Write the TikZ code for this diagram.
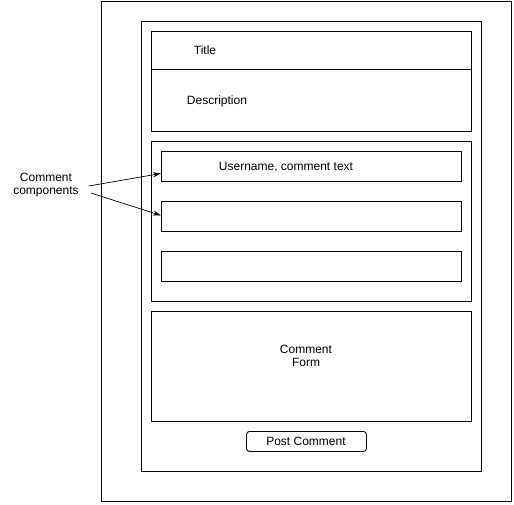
\documentclass[tikz,border=0pt]{standalone}
\usepackage{fontspec}
\setmainfont{Liberation Sans}
\usetikzlibrary{arrows.meta}
\tikzset{
  box/.style={draw, rectangle, inner sep=0pt, line width=0.9pt, anchor=north west},
  lbl/.style={font=\fontsize{12}{13.5}\selectfont, align=center, inner sep=2pt},
  pointer/.style={-{Stealth[length=8pt,width=5pt]}, line width=0.7pt}
}
\begin{document}
\begin{tikzpicture}[x=1pt,y=-1pt]
  \useasboundingbox (0,0) rectangle (514,504);
  % page frame
  \node[box, minimum width=410pt, minimum height=500pt] (page) at (101,1) {};
  \node[box, minimum width=340pt, minimum height=450pt] (post) at (141,21) {};
  % header
  \node[box, minimum width=320pt, minimum height=38pt] (title) at (151,31) {};
  \node[box, minimum width=320pt, minimum height=62pt] (desc) at (151,69) {};
  \node[lbl] (titletext) at (205,50) {Title};
  \node[lbl] (desctext) at (217,101) {Description};
  % comments
  \node[box, minimum width=320pt, minimum height=160pt] (comments) at (151,141) {};
  \node[box, minimum width=300pt, minimum height=30pt] (c1) at (161,151) {};
  \node[box, minimum width=300pt, minimum height=30pt] (c2) at (161,201) {};
  \node[box, minimum width=300pt, minimum height=30pt] (c3) at (161,251) {};
  \node[lbl] (c1text) at (286,167) {Username, comment text};
  % form
  \node[box, minimum width=320pt, minimum height=110pt] (form) at (151,311) {};
  \node[lbl] (formtext) at (306,356) {Comment\\Form};
  \node[box, rounded corners=3pt, minimum width=120pt, minimum height=20pt] (submit) at (246,431) {};
  \node[lbl] (submittext) at (306,441) {Post Comment};
  % annotation
  \node[lbl] (note) at (46,185) {Comment\\components};
  \draw[pointer] ([xshift=8pt,yshift=-1pt]note.east) -- ([yshift=-7pt]c1.west);
  \draw[pointer] ([xshift=10pt,yshift=-8pt]note.east) -- ([yshift=1pt]c2.west);
\end{tikzpicture}
\end{document}
